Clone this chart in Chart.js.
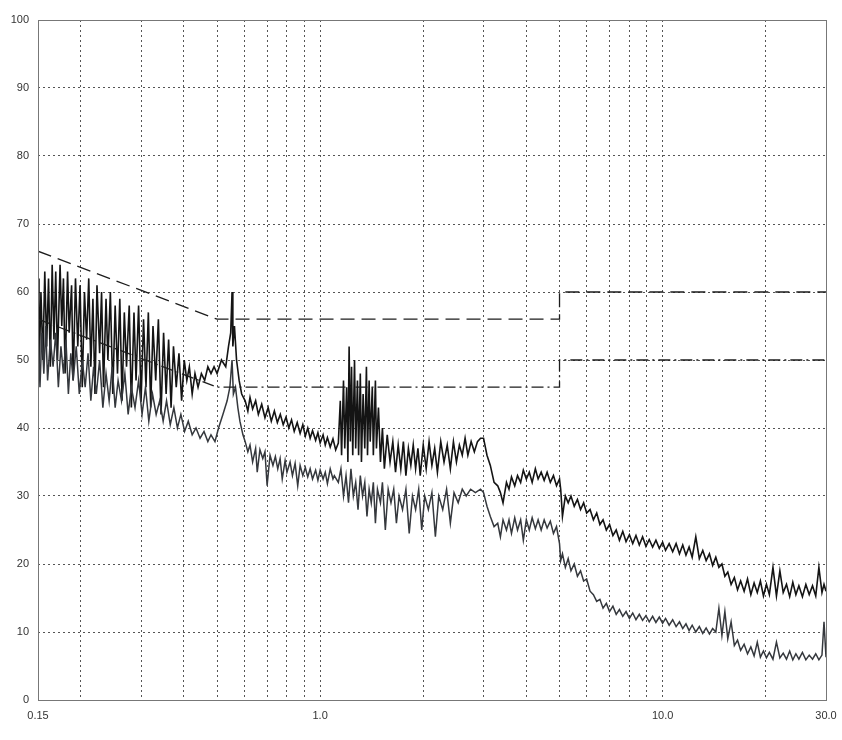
<!DOCTYPE html>
<html>
<head>
<meta charset="utf-8">
<script src="https://cdn.jsdelivr.net/npm/chart.js@4.4.0/dist/chart.umd.min.js"></script>
<style>
html,body{margin:0;padding:0;background:#fff;}
#wrap{width:842px;height:740px;position:relative;}
</style>
</head>
<body>
<div id="wrap"><canvas id="c" width="842" height="740"></canvas></div>
<script>
// Frequency axis (MHz) tick positions and labels
const xTicks = [0.15,0.2,0.3,0.4,0.5,0.6,0.7,0.8,0.9,1,2,3,4,5,6,7,8,9,10,20,30];
const xLabels = {"0.15":"0.15","1":"1.0","10":"10.0","30":"30.0"};
const yTicks = [0,10,20,30,40,50,60,70,80,90,100];

// Limit lines (dBuV)
const qpFreq  = [0.15,0.5,5,5,30];
const qpLevel = [66,56,56,60,60];
const avFreq  = [0.15,0.5,5,5,30];
const avLevel = [56,46,46,50,50];

// Peak trace
const peakFreq = [
0.150,0.151,0.153,0.155,0.157,0.159,0.161,0.163,0.165,0.167,0.169,0.171,0.174,0.176,0.178,0.180,0.183,0.185,0.188,0.190,
0.193,0.196,0.199,0.202,0.205,0.208,0.211,0.214,0.217,0.220,0.223,0.227,0.230,0.233,0.237,0.240,0.244,0.248,0.252,0.256,
0.260,0.264,0.268,0.272,0.277,0.281,0.286,0.290,0.295,0.300,0.305,0.310,0.315,0.320,0.325,0.331,0.337,0.343,0.349,0.355,
0.361,0.367,0.373,0.380,0.387,0.394,0.401,0.408,0.415,0.423,0.431,0.440,0.450,0.460,0.470,0.480,0.490,0.500,0.515,0.530,
0.540,0.548,0.553,0.556,0.562,0.570,0.580,0.590,
0.604,0.615,0.624,0.635,0.648,0.660,0.675,0.690,0.705,0.720,0.735,0.750,0.765,0.780,0.795,0.810,0.825,0.840,0.857,0.874,
0.890,0.905,0.920,0.935,0.950,0.970,0.985,1.000,1.020,1.035,1.050,1.070,1.090,1.110,1.130,
1.145,1.155,1.170,1.180,1.195,1.205,1.215,1.225,1.235,1.245,1.260,1.270,1.285,1.295,1.310,1.320,1.335,1.350,1.365,1.375,
1.390,1.400,1.420,1.430,1.450,1.460,1.480,1.500,1.520,1.540,1.570,1.600,1.630,1.660,1.690,1.720,1.750,1.780,1.810,1.840,
1.870,1.900,1.930,1.960,2.000,2.040,2.080,2.120,2.160,2.200,2.250,2.300,2.350,2.400,2.450,2.500,2.550,2.600,2.650,2.700,
2.760,2.820,2.880,2.940,
3.00,3.07,3.14,3.22,3.30,3.36,3.42,3.50,3.56,3.62,3.70,3.77,3.85,3.92,4.00,4.08,4.16,4.25,4.33,4.42,
4.51,4.60,4.70,4.80,4.90,5.00,5.04,5.10,5.20,5.30,5.40,5.52,5.64,5.76,5.88,6.00,6.14,6.28,6.42,6.56,
6.70,6.85,7.00,7.16,7.32,7.48,7.65,7.82,8.00,8.18,8.36,8.55,8.74,8.94,9.14,9.35,9.56,9.78,10.0,10.2,
10.45,10.7,10.95,11.2,11.45,11.7,11.95,12.2,12.5,12.8,13.1,13.4,13.7,14.0,14.3,14.6,14.9,15.2,15.5,15.85,
16.2,16.55,16.9,17.3,17.7,18.1,18.5,18.9,19.3,19.7,20.1,20.5,21.0,21.5,22.0,22.5,23.0,23.5,24.0,24.5,
25.0,25.6,26.2,26.8,27.4,28.0,28.6,29.2,29.6,30.0];
const peakLevel = [
62,47,60,50,63,52,62,49,64,53,63,50,64,55,62,48,63,54,61,47,
62,52,61,46,60,53,62,49,59,45,61,51,60,46,59,50,60,45,58,48,
59,44,57,49,58,43,57,47,58,44,56,46,57,43,55,47,56,42,54,45,
53,43,52,46,51,44,50,47,49,45,48,46,48,47,49,48,49,48,50,49,
52,54,60,52,55,50,47,45,
44,42.5,44.5,42.8,44,42,43.5,41.5,43,41,42.5,40.8,42,40.5,41.6,40,41.2,39.5,40.8,39.2,
40.5,38.8,40,38.5,39.6,38.2,39.3,37.8,39,37.5,38.6,37.2,38.4,36.8,37.8,
44,36,47,37,46,35,52,38,49,36,50,37,47,36,48,35,45,37,49,36,
47,38,46,36,47,37,43,35,40,34,39,35,38,33.5,37.5,34,38,33,37,34.5,
37.5,34,37,33,37.5,34,38,34.5,37,33.5,38,35,37.5,34,38,35,37.5,36,38.5,36,
38,36.5,38,38.5,
38.5,36,34.5,32,31.5,30.5,29,32,31,32.8,31.5,33,32,33.8,32.5,33.5,32,34,32.5,33.5,
32.3,33.5,32,33,31.5,32.5,31,27,30,29,30,28.5,29.5,28,29,27.5,28,26.5,27.5,25.8,
26.5,25,25.8,24.2,25,23.5,24.8,23.3,24.3,23,24.2,22.8,24,22.6,23.6,22.5,23.5,22.3,23.2,22,
23,21.8,23,21.5,22.8,21.3,22.5,21,24,20.8,22,20.5,21.5,19.8,21,19.5,20,18.2,18.8,17,
18,16.2,17.5,16,17.8,15.5,17.2,15.8,17.5,15.3,17,15.5,19.5,15.3,19,15.8,17,15.2,17.3,15.5,
16.8,15.2,17,15.5,16.8,15.3,19.5,15.8,17,16];

// Average trace
const avgFreq = [
0.150,0.152,0.154,0.156,0.158,0.160,0.163,0.166,0.169,0.172,0.175,0.178,0.181,0.184,0.187,0.190,0.194,0.198,0.202,0.206,
0.210,0.214,0.218,0.222,0.227,0.232,0.237,0.242,0.247,0.252,0.257,0.263,0.269,0.275,0.281,0.288,0.295,0.302,0.309,0.316,
0.324,0.332,0.340,0.348,0.356,0.365,0.374,0.383,0.392,0.402,0.412,0.423,0.434,0.446,0.458,0.470,0.480,0.493,0.505,0.520,
0.535,0.545,0.553,0.558,0.566,0.575,0.583,0.595,
0.604,0.615,0.624,0.635,0.648,0.655,0.667,0.680,0.690,0.700,0.714,0.728,0.740,0.752,0.764,0.775,0.790,0.800,0.817,0.830,
0.845,0.860,0.874,0.890,0.905,0.920,0.935,0.950,0.970,0.985,1.000,1.020,1.035,1.050,1.070,1.090,1.100,1.130,
1.150,1.170,1.190,1.210,1.230,1.250,1.270,1.290,
1.310,1.330,1.350,1.370,1.390,1.410,1.430,1.450,1.470,1.500,1.520,1.550,1.580,1.610,1.640,1.670,1.700,1.740,1.780,1.820,
1.860,1.900,1.940,1.980,2.020,2.070,2.120,2.170,2.220,2.280,2.340,2.400,2.460,2.530,2.600,2.670,2.750,2.840,2.940,
3.00,3.07,3.14,3.22,3.30,3.36,3.42,3.50,3.56,3.62,3.70,3.77,3.85,3.92,4.00,4.08,4.16,4.25,4.33,4.42,
4.51,4.60,4.70,4.80,4.90,5.00,5.04,5.10,5.20,5.30,5.40,5.52,5.64,5.76,5.88,6.00,6.14,6.28,6.42,6.56,
6.70,6.85,7.00,7.16,7.32,7.48,7.65,7.82,8.00,8.18,8.36,8.55,8.74,8.94,9.14,9.35,9.56,9.78,10.0,10.2,
10.45,10.7,10.95,11.2,11.45,11.7,11.95,12.2,12.5,12.8,13.1,13.4,13.7,14.0,14.3,14.6,14.9,15.2,15.5,15.85,
16.2,16.55,16.9,17.3,17.7,18.1,18.5,18.9,19.3,19.7,20.1,20.5,21.0,21.5,22.0,22.5,23.0,23.5,24.0,24.5,
25.0,25.6,26.2,26.8,27.4,28.0,28.6,29.2,29.6,30.0];
const avgLevel = [
55,46,54,48,55,47,53,49,54,46,52,48,53,45,51,47,52,45,50,46,
51,44,49,45,50,43,48,44,49,43,47,44,48,42,46,43,47,42,46,41,
45,42,44,41,44,40.5,43,40,42,39.5,41,39,40,38.5,39.5,38,39,38,40,42,
44,46,50,45,46,43,41,39,
38,36.5,37.5,35,37,33.5,36.8,35.5,36.5,31.5,36,34.5,35.8,34,35.5,32.5,35.2,33.5,35,33,
34.8,31.5,34.5,33,34.2,32.8,34,32.5,33.8,32.3,33.8,32.5,33.5,31.8,34,32.5,33,32,
34,30,33,29,34,30,32,28,
33,30,32,27,31,29,32,26,31,29,32,25,31,29,31,26,30,28,31,24.5,
30,28,31,25,30,28,30.5,24,30,28,31,26,30.5,29,31,30,31,30.5,31,
30.5,28.5,27,25.5,26,24,26.5,25,26.5,24.5,26.8,25,26.5,23.5,26.5,25,26.8,25.2,26.5,25,
26.5,25.3,26.3,24.5,25.5,23,20.5,21.5,19.5,20.8,19,20,18.2,19,17.5,17.8,16,15.5,14.5,14.8,
13.5,14.2,13,13.8,12.6,13.3,12.3,13,12,12.8,11.8,12.6,11.7,12.4,11.5,12.3,11.4,12.2,11.3,12,
11,11.8,10.8,11.5,10.5,11.2,10.2,11,10,10.8,9.8,10.6,9.7,10.5,10,13.5,9.5,13,9,11.5,
8,8.8,7.3,8.2,6.8,7.8,6.5,8.5,6.3,7.2,6.2,7,6,8.5,6.2,6.9,6,7.2,5.9,6.8,
6,7,5.9,6.6,6,6.8,5.9,6.6,11.5,6.3];

const toXY = (f, v) => f.map((x, i) => ({x: x, y: v[i]}));

const framePlugin = {
  id: 'frame',
  afterDraw(chart) {
    const a = chart.chartArea, ctx = chart.ctx;
    ctx.save();
    ctx.strokeStyle = '#777';
    ctx.lineWidth = 1;
    ctx.strokeRect(a.left + 0.5, a.top + 0.5, a.right - a.left, a.bottom - a.top);
    ctx.restore();
  }
};

new Chart(document.getElementById('c'), {
  type: 'line',
  data: {
    datasets: [
      {data: toXY(qpFreq, qpLevel), borderColor: '#1c1c1c', borderWidth: 1.3, borderDash: [14, 7], pointRadius: 0},
      {data: toXY(avFreq, avLevel), borderColor: '#1c1c1c', borderWidth: 1.3, borderDash: [12, 4, 2, 4], pointRadius: 0},
      {data: toXY(avgFreq, avgLevel), borderColor: '#35383d', borderWidth: 1.5, pointRadius: 0},
      {data: toXY(peakFreq, peakLevel), borderColor: '#141414', borderWidth: 1.6, pointRadius: 0}
    ]
  },
  options: {
    responsive: false,
    animation: false,
    layout: {padding: {top: 20, right: 16, left: 0, bottom: 0}},
    plugins: {legend: {display: false}, tooltip: {enabled: false}},
    elements: {line: {tension: 0}},
    scales: {
      x: {
        type: 'logarithmic',
        min: 0.15, max: 30,
        afterBuildTicks: s => { s.ticks = xTicks.map(v => ({value: v})); },
        afterFit: s => { s.paddingLeft = 0; s.paddingRight = 0; s.height = 40; },
        ticks: {
          autoSkip: false, maxRotation: 0, padding: 9,
          color: '#333', font: {family: 'Liberation Sans', size: 11},
          callback: v => xLabels[String(v)] || ''
        },
        grid: {color: '#555', lineWidth: 1, drawTicks: false},
        border: {display: false, dash: [2, 3]}
      },
      y: {
        min: 0, max: 100,
        afterBuildTicks: s => { s.ticks = yTicks.map(v => ({value: v})); },
        afterFit: s => { s.width = 38; s.paddingTop = 0; s.paddingBottom = 0; },
        ticks: {
          padding: 9, color: '#333', font: {family: 'Liberation Sans', size: 11}
        },
        grid: {color: '#555', lineWidth: 1, drawTicks: false},
        border: {display: false, dash: [2, 3]}
      }
    }
  },
  plugins: [framePlugin]
});
</script>
</body>
</html>
